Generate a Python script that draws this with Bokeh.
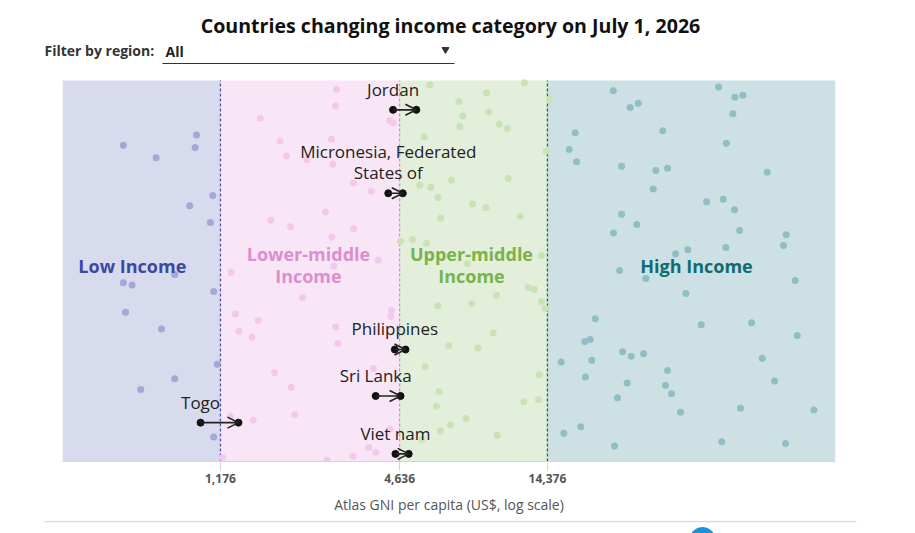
from bokeh.plotting import figure
from bokeh.layouts import column
from bokeh.models import Range1d, FixedTicker, NumeralTickFormatter, Arrow, OpenHead, ColumnDataSource
from bokeh.core.properties import value
from bokeh.embed import file_html
from bokeh.resources import INLINE

# ---------------- data ----------------
TITLE = "Countries changing income category on July 1, 2026"
FILTER_LABEL = "Filter by region:"
FILTER_VALUE = "All"
X_LABEL = "Atlas GNI per capita (US$, log scale)"

thresholds = [1176, 4636, 14376]
x_min, x_max = 351, 130450

categories = ["Low Income", "Lower-middle\nIncome", "Upper-middle\nIncome", "High Income"]

low_gni = [559, 719, 979, 969, 1109, 930, 1089, 829, 559, 598, 1117, 569, 749, 1147, 829, 639, 1117]
low_y = [83.0, 79.7, 85.7, 82.4, 69.8, 67.1, 62.7, 49.1, 46.9, 46.3, 44.6, 39.2, 34.8, 25.5, 21.7, 18.9, 6.4]

lm_gni = [2859, 2837, 1597, 4299, 4413, 1857, 2751, 1949, 2277, 2779, 3256, 3730, 2628, 1729, 2010,
          3264, 2757, 3934, 2800, 1276, 2209, 4356, 4332, 1319, 1570, 2843, 1357, 1499, 2887, 1778,
          3795, 2021, 2078, 1511, 1270, 4299, 3662, 3864, 3249, 2662, 1197]
lm_y = [97.7, 93.4, 90.1, 89.5, 88.9, 84.1, 84.6, 80.2, 79.2, 78.0, 73.1, 70.9, 65.5, 63.3, 61.6,
        61.1, 58.9, 52.8, 51.3, 49.6, 43.0, 39.7, 38.1, 38.7, 37.0, 35.4, 34.2, 32.6, 31.0, 23.3,
        24.4, 19.5, 12.3, 10.8, 11.9, 8.5, 3.7, 2.4, 1.4, 0.3, 1.0]

um_gni = [5842, 7295, 7350, 5596, 6897, 5411, 5886, 6228, 6353, 5116, 5694, 4667, 12060, 9016, 9156,
          7521, 9936, 10566, 14240, 14600, 10647, 8099, 8995, 11670, 7778, 13737, 12406, 12988, 9734,
          6210, 8056, 13737, 14133, 9491, 6755, 8436, 5637, 13500, 6276, 6147, 12000, 13425, 7696,
          6845, 6339, 9786, 5510]
um_y = [98.9, 94.5, 87.9, 85.2, 73.8, 72.6, 72.0, 69.3, 63.9, 58.3, 57.3, 57.8, 99.4, 96.7, 91.8,
        90.7, 88.5, 87.4, 81.4, 95.1, 74.3, 67.6, 66.6, 64.4, 51.9, 54.1, 45.7, 45.2, 43.6,
        40.9, 41.4, 42.0, 40.2, 33.7, 30.4, 29.8, 24.9, 22.8, 18.4, 14.5, 15.7, 16.2, 11.3,
        9.6, 8.0, 6.9, 5.8]

hi_gni = [23786, 53286, 60370, 64180, 27090, 28808, 59446, 17783, 34775, 16982, 17960, 56528, 25351,
          32961, 36063, 77340, 32316, 48606, 55240, 60231, 25351, 28505, 23841, 62576, 89462, 87627,
          56347, 38338, 42120, 24963, 30530, 95853, 41475, 20730, 46667, 68590, 97340, 19135, 19948,
          15972, 20193, 25544, 27297, 30000, 74440, 36063, 19238, 26474, 35520, 37180, 81790, 24582,
          39830, 63050, 110530, 18560, 16296, 24023, 54643, 88990]
hi_y = [97.3, 98.3, 95.6, 96.1, 92.9, 94.0, 91.3, 86.3, 86.8, 81.9, 78.7, 83.5, 77.5,
        76.4, 77.0, 75.9, 71.5, 68.2, 68.8, 66.1, 64.9, 62.2, 60.0, 60.6, 59.5, 56.7,
        56.2, 54.5, 55.6, 50.1, 48.0, 47.5, 44.1, 37.5, 35.9, 36.4, 33.1, 31.5, 32.0,
        26.1, 26.6, 28.8, 27.6, 28.3, 27.1, 23.9, 22.2, 20.6, 20.0, 17.8, 21.1, 16.7,
        12.9, 14.0, 13.5, 9.1, 7.4, 4.1, 5.2, 4.7]

movers = ["Jordan", "Micronesia, Federated\nStates of", "Philippines", "Sri Lanka", "Togo", "Viet nam"]
gni_old = [4410, 4250, 4470, 3860, 1010, 4490]
gni_new = [5270, 4750, 4850, 4670, 1350, 4970]
mover_y = [92.3, 70.4, 29.4, 17.2, 10.2, 2.0]

# ---------------- styles / layout ----------------
FONT_NAME = "Open Sans"
FONT = value(FONT_NAME)
band_fill = ["#d8daee", "#f8e6f6", "#e3efdb", "#cde0e3"]
point_color = ["#a3a8d5", "#f3c8ec", "#c9e2b6", "#8fbfc5"]
label_color = ["#3b49a2", "#dd8dd0", "#79b349", "#0e6c72"]
line_color = ["#4a56b8", "#d98bd0", "#16696b"]
cat_x = [599, 2307, 8037, 45010]
cat_y = [51.4, 51.6, 51.6, 51.4]

HEAD_H = 66          # header strip height (px)
BAND_TOP_PX = 80     # band top on the page
BAND_BOT_PX = 461    # band bottom on the page
FOOT_TOP_PX = 520
W = 915
frame_h = BAND_BOT_PX - HEAD_H
y_top = 100 * frame_h / (BAND_BOT_PX - BAND_TOP_PX)

# ---------------- header ----------------
top = figure(width=W, height=HEAD_H, x_range=Range1d(0, W), y_range=Range1d(HEAD_H, 0),
             output_backend="svg", toolbar_location=None, x_axis_type=None, y_axis_type=None,
             min_border=0)
top.frame_align = False
top.outline_line_color = None
top.text(x=[450], y=[25], text=[TITLE], text_align="center", text_baseline="middle",
         text_font=FONT, text_font_style="bold", text_font_size="19.6px", text_color="#111111")
top.text(x=[44], y=[50], text=[FILTER_LABEL], text_align="left", text_baseline="middle",
         text_font=FONT, text_font_style="bold", text_font_size="14px", text_color="#333333")
top.text(x=[165], y=[51], text=[FILTER_VALUE], text_align="left", text_baseline="middle",
         text_font=FONT, text_font_style="bold", text_font_size="14px", text_color="#222222")
top.segment(x0=[162], y0=[63], x1=[454], y1=[63], line_color="#333333", line_width=1)
top.scatter(x=[445], y=[49], marker="inverted_triangle", size=7, color="#333333")

# ---------------- main chart ----------------
p = figure(width=W, height=FOOT_TOP_PX - HEAD_H, x_axis_type="log", x_range=Range1d(x_min, x_max),
           y_range=Range1d(0, y_top), output_backend="svg", toolbar_location=None,
           min_border_left=62, min_border_right=80, min_border_top=0,
           min_border_bottom=FOOT_TOP_PX - BAND_BOT_PX)
p.frame_align = False
p.yaxis.visible = False
p.xgrid.visible = False
p.ygrid.visible = False
p.outline_line_color = None
p.background_fill_color = "white"

edges = [x_min] + thresholds + [x_max]
p.quad(left=edges[:-1], right=edges[1:], bottom=0, top=100, fill_color=band_fill, line_color=None)

for t, c in zip(thresholds, line_color):
    p.segment(x0=[t], y0=[0], x1=[t], y1=[100], line_color=c, line_width=1.3, line_dash="3 2")

for xs, ys, c in zip([low_gni, lm_gni, um_gni, hi_gni], [low_y, lm_y, um_y, hi_y], point_color):
    p.scatter(x=xs, y=ys, size=7, fill_color=c, line_color=None)

p.text(x=cat_x, y=cat_y, text=categories, text_color=label_color, text_align="center",
       text_baseline="middle", text_font=FONT, text_font_style="bold", text_font_size="18px",
       text_line_height=0.94)

src = ColumnDataSource(dict(x0=gni_old, x1=gni_new, y=mover_y, label=movers))
p.add_layout(Arrow(end=OpenHead(size=11, line_color="#222222", line_width=1.6),
                   x_start="x0", y_start="y", x_end="x1", y_end="y", source=src,
                   line_color="#222222", line_width=1.6))
p.scatter(x="x0", y="y", source=src, size=7, color="#111111")
p.scatter(x="x1", y="y", source=src, size=7, color="#111111")
p.text(x="x0", y="y", text="label", source=src, text_align="center", text_baseline="bottom",
       y_offset=-9, text_font=FONT, text_font_size="17px", text_color="#222222",
       text_line_height=0.93)

ax = p.xaxis[0]
ax.ticker = FixedTicker(ticks=thresholds)
ax.formatter = NumeralTickFormatter(format="0,0")
ax.axis_line_color = "#d3d6da"
ax.major_tick_line_color = "#d3d6da"
ax.major_tick_out = 9
ax.major_tick_in = 0
ax.minor_tick_out = 0
ax.minor_tick_in = 0
ax.major_label_standoff = 3
ax.major_label_text_font = FONT_NAME
ax.major_label_text_font_style = "bold"
ax.major_label_text_font_size = "12px"
ax.major_label_text_color = "#555555"
ax.axis_label = X_LABEL
ax.axis_label_text_font = FONT_NAME
ax.axis_label_text_font_style = "normal"
ax.axis_label_text_font_size = "14px"
ax.axis_label_text_color = "#555555"
ax.axis_label_standoff = 9

# ---------------- footer ----------------
foot = figure(width=W, height=13, x_range=Range1d(0, W), y_range=Range1d(13, 0),
              output_backend="svg", toolbar_location=None, x_axis_type=None, y_axis_type=None,
              min_border=0)
foot.frame_align = False
foot.outline_line_color = None
foot.segment(x0=[44], y0=[1], x1=[856], y1=[1], line_color="#d9d9d9", line_width=1.5)
foot.scatter(x=[702], y=[20], size=26, color="#1f8fd8")

layout = column(top, p, foot, spacing=0)
open("out.html", "w").write(file_html(layout, INLINE))
